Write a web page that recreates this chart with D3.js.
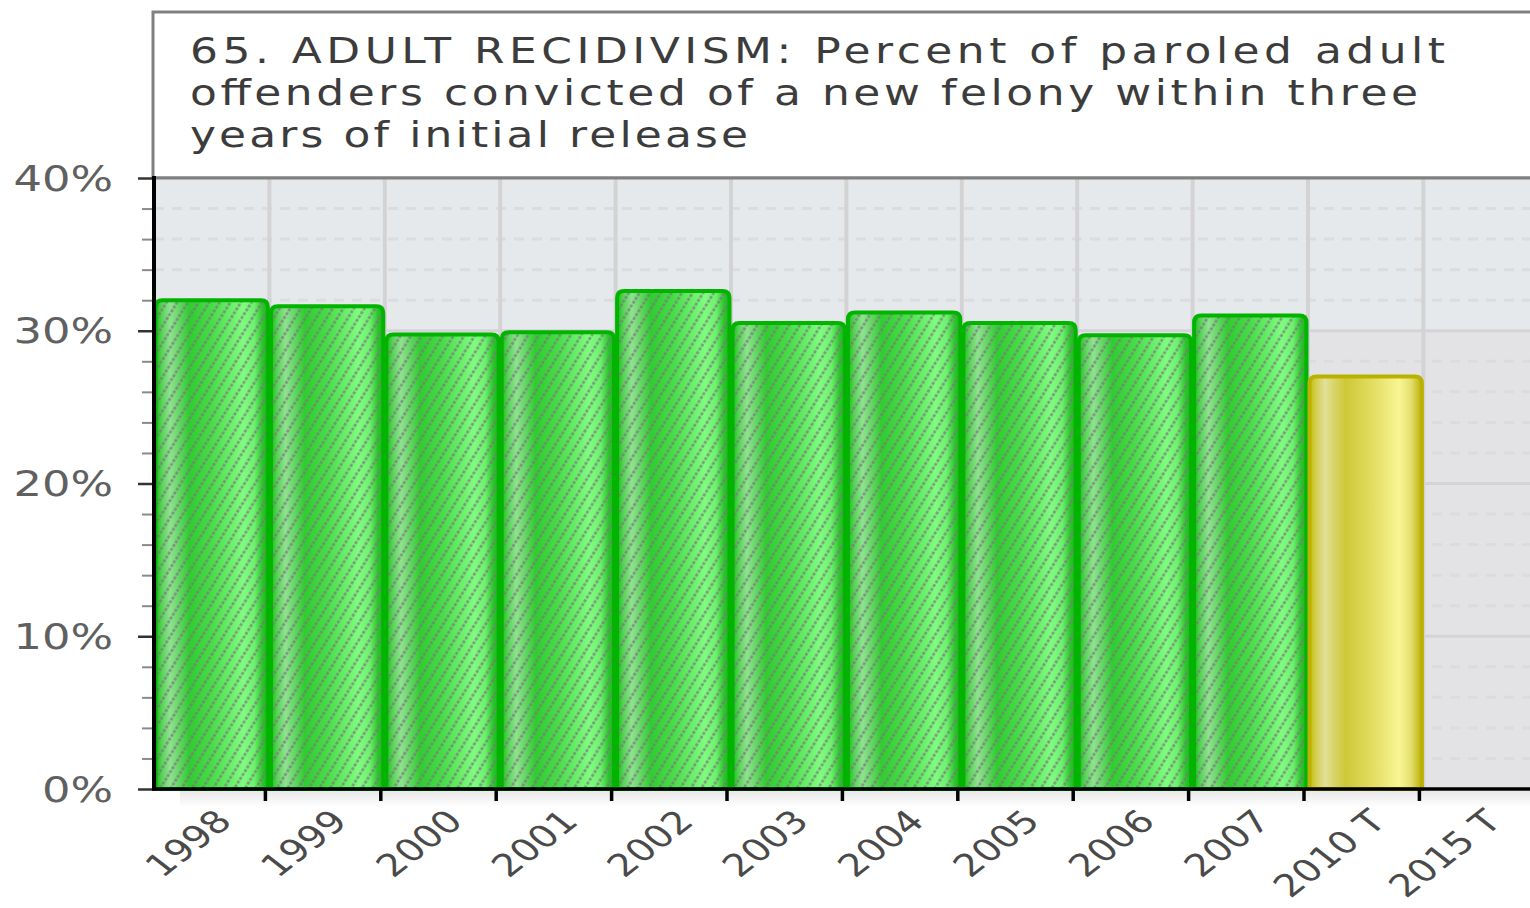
<!DOCTYPE html>
<html>
<head>
<meta charset="utf-8">
<script src="https://cdn.jsdelivr.net/npm/d3@7"></script>
<style>
  html, body { margin: 0; padding: 0; background: #ffffff; }
  svg { display: block; }
  text { font-family: "DejaVu Sans", Verdana, sans-serif; }
</style>
</head>
<body>
<svg id="chart" width="1530" height="908"></svg>
<script>
// ---- data ----
const titleLines = [
  "65. ADULT RECIDIVISM: Percent of paroled adult",
  "offenders convicted of a new felony within three",
  "years of initial release"
];
const categories = ["1998", "1999", "2000", "2001", "2002", "2003", "2004", "2005", "2006", "2007", "2010 T", "2015 T"];
const values = [32.1, 31.7, 29.85, 30.0, 32.7, 30.6, 31.3, 30.6, 29.8, 31.1, 27.1, null];
const barKinds = ["actual", "actual", "actual", "actual", "actual", "actual", "actual", "actual", "actual", "actual", "target", "target"];
const yMajorTicks = [0, 10, 20, 30, 40];
const yMinorTicks = [2, 4, 6, 8, 12, 14, 16, 18, 22, 24, 26, 28, 32, 34, 36, 38];
const shadedCategories = ["2010 T", "2015 T"];
const shadedRange = [0, 30];

// ---- layout ----
const svg = d3.select("#chart");
const pLeft = 154, pTop = 178, pBottom = 789, bandW = 115.4;
const sx = 1.28; // horizontal stretch of the original rendering

const x = d3.scaleBand().domain(categories).range([pLeft, pLeft + bandW * categories.length]).padding(0);
const y = d3.scaleLinear().domain([0, 40]).range([pBottom, pTop]);

const defs = svg.append("defs");
// green cylinder gradient
const gG = defs.append("linearGradient").attr("id", "gGreen").attr("x1", "0").attr("x2", "1").attr("y1", "0").attr("y2", "0");
[[0, "#1cc01c"], [0.06, "#5ad45a"], [0.13, "#90e290"], [0.2, "#6ad86a"], [0.3, "#30cc30"], [0.5, "#48dc48"], [0.78, "#80fc80"], [0.88, "#6ef06e"], [0.95, "#2ec42e"], [1, "#18b818"]]
  .forEach(([o, c]) => gG.append("stop").attr("offset", o).attr("stop-color", c));
// yellow cylinder gradient
const gY = defs.append("linearGradient").attr("id", "gYellow").attr("x1", "0").attr("x2", "1").attr("y1", "0").attr("y2", "0");
[[0, "#c4bc10"], [0.06, "#d4cf50"], [0.14, "#e2e09a"], [0.22, "#d8d468"], [0.32, "#cec838"], [0.55, "#e2dc60"], [0.8, "#f8f694"], [0.9, "#e6e070"], [0.96, "#ccc430"], [1, "#bab200"]]
  .forEach(([o, c]) => gY.append("stop").attr("offset", o).attr("stop-color", c));
// hatch pattern
const hp = defs.append("pattern").attr("id", "hatch").attr("patternUnits", "userSpaceOnUse")
  .attr("width", 9).attr("height", 9).attr("patternTransform", "rotate(32)");
hp.append("line").attr("x1", 4.5).attr("y1", 0).attr("x2", 4.5).attr("y2", 9)
  .attr("stroke", "#787878").attr("stroke-width", 2.6).attr("stroke-dasharray", "3 1.5").attr("opacity", 0.75);
// axis shadow
const gS = defs.append("linearGradient").attr("id", "gShadow").attr("x1", "0").attr("x2", "0").attr("y1", "0").attr("y2", "1");
gS.append("stop").attr("offset", 0).attr("stop-color", "#e8e8e8");
gS.append("stop").attr("offset", 1).attr("stop-color", "#ffffff");

// ---- title box ----
const tsx = 1.22;
svg.append("rect").attr("x", 153).attr("y", 12).attr("width", 1400).attr("height", pTop - 12)
  .attr("fill", "#ffffff").attr("stroke", "#808080").attr("stroke-width", 3);
svg.append("g").selectAll("text").data(titleLines).join("text")
  .attr("x", 190).attr("y", (d, i) => 63 + i * 42)
  .attr("font-size", 36).attr("fill", "#3c3c3c")
  .attr("transform", `translate(190,0) scale(${tsx},1) translate(-190,0)`)
  .attr("textLength", (d, i) => [1255 / tsx, 1228 / tsx, 558 / tsx][i]).attr("lengthAdjust", "spacing")
  .text(d => d);

// ---- plot background ----
const plotRight = 1540;
svg.append("rect").attr("x", pLeft).attr("y", pTop).attr("width", plotRight - pLeft).attr("height", pBottom - pTop).attr("fill", "#e6e9ec");
svg.append("rect")
  .attr("x", x(shadedCategories[0]))
  .attr("y", y(shadedRange[1]))
  .attr("width", plotRight - x(shadedCategories[0]))
  .attr("height", y(shadedRange[0]) - y(shadedRange[1]))
  .attr("fill", "#e3e3e5");

// grid lines
const grid = svg.append("g");
grid.selectAll("line.minor").data(yMinorTicks).join("line")
  .attr("x1", pLeft).attr("x2", plotRight).attr("y1", d => y(d)).attr("y2", d => y(d))
  .attr("stroke", "#dcdcdf").attr("stroke-width", 3).attr("stroke-dasharray", "10 8");
grid.selectAll("line.major").data(yMajorTicks.filter(d => d > 0 && d < 40)).join("line")
  .attr("x1", pLeft).attr("x2", plotRight).attr("y1", d => y(d)).attr("y2", d => y(d))
  .attr("stroke", "#d4d4d6").attr("stroke-width", 3);
grid.selectAll("line.v").data(categories.slice(1)).join("line")
  .attr("x1", d => x(d)).attr("x2", d => x(d)).attr("y1", pTop).attr("y2", pBottom)
  .attr("stroke", "#d3d3d3").attr("stroke-width", 4);

// ---- bars ----
function barPath(x0, w, yt, yb, r) {
  return `M${x0},${yb} L${x0},${yt + r} Q${x0},${yt} ${x0 + r},${yt} L${x0 + w - r},${yt} Q${x0 + w},${yt} ${x0 + w},${yt + r} L${x0 + w},${yb} Z`;
}
const barData = categories.map((c, i) => ({ c, v: values[i], k: barKinds[i] })).filter(d => d.v != null);
const bars = svg.append("g");
bars.selectAll("path.fill").data(barData).join("path")
  .attr("d", d => barPath(x(d.c) + 1.5, x.bandwidth() - 3, y(d.v) + 1.5, pBottom, 7))
  .attr("fill", d => d.k === "actual" ? "url(#gGreen)" : "url(#gYellow)");
bars.append("g").selectAll("path").data(barData.filter(d => d.k === "actual")).join("path")
  .attr("d", d => barPath(x(d.c) + 1.5, x.bandwidth() - 3, y(d.v) + 1.5, pBottom, 7))
  .attr("fill", "url(#hatch)");
bars.append("g").selectAll("path").data(barData).join("path")
  .attr("d", d => barPath(x(d.c) + 1.5, x.bandwidth() - 3, y(d.v) + 1.5, pBottom, 7))
  .attr("fill", "none")
  .attr("stroke", d => d.k === "actual" ? "#00b400" : "#bab200")
  .attr("stroke-width", 4);

// plot top border
svg.append("line").attr("x1", 153).attr("x2", plotRight).attr("y1", pTop).attr("y2", pTop)
  .attr("stroke", "#808080").attr("stroke-width", 3);

// ---- axes ----
svg.append("rect").attr("x", 180).attr("y", pBottom + 2).attr("width", plotRight - 180).attr("height", 16).attr("fill", "url(#gShadow)");

const yAxisMinor = svg.append("g").attr("transform", `translate(${pLeft},0)`)
  .call(d3.axisLeft(y).tickValues(yMinorTicks).tickSize(12).tickFormat(""));
yAxisMinor.select(".domain").remove();
yAxisMinor.selectAll(".tick line").attr("stroke", "#8a8a8a").attr("stroke-width", 2);

const yAxis = svg.append("g").attr("transform", `translate(${pLeft},0)`)
  .call(d3.axisLeft(y).tickValues(yMajorTicks).tickSize(16).tickPadding(0).tickFormat(d => d + "%"));
yAxis.select(".domain").remove();
yAxis.selectAll(".tick line").attr("stroke", "#333333").attr("stroke-width", 2.5);
yAxis.selectAll(".tick text")
  .attr("x", 0).attr("dy", 0)
  .attr("transform", `translate(-41,12) scale(${sx},1)`)
  .attr("font-size", 35).attr("fill", "#606060").attr("text-anchor", "end")
  .attr("font-family", "DejaVu Sans, sans-serif");

svg.append("line").attr("x1", pLeft).attr("x2", pLeft).attr("y1", pTop - 2).attr("y2", pBottom + 1.5)
  .attr("stroke", "#000000").attr("stroke-width", 4);

// x axis
svg.append("line").attr("x1", pLeft - 2).attr("x2", plotRight).attr("y1", pBottom).attr("y2", pBottom)
  .attr("stroke", "#000000").attr("stroke-width", 3.5);
svg.append("g").selectAll("line").data(categories.slice(1)).join("line")
  .attr("x1", d => x(d) - 4).attr("x2", d => x(d) - 4).attr("y1", pBottom).attr("y2", pBottom + 12)
  .attr("stroke", "#000000").attr("stroke-width", 3.5);

svg.append("g").selectAll("text").data(categories).join("text")
  .attr("transform", d => `translate(${x(d) + x.bandwidth() / 2 + 22},823) scale(${sx},1) rotate(-45)`)
  .attr("text-anchor", "end")
  .attr("font-size", 31).attr("fill", "#4a4a4a")
  .text(d => d);
</script>
</body>
</html>
